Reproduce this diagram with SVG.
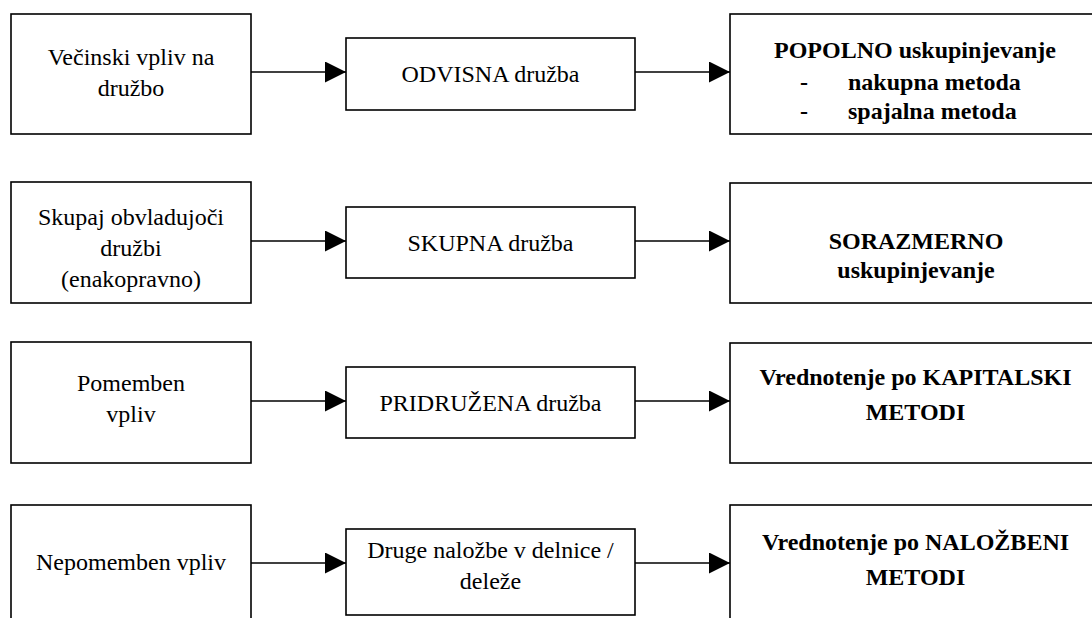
<svg xmlns="http://www.w3.org/2000/svg" width="1092" height="618" viewBox="0 0 1092 618">
<style>
.box{fill:#fff;stroke:#000;stroke-width:1.6}
.t{font-family:"Liberation Serif","Times New Roman",serif;font-size:24px;fill:#000;text-anchor:middle}
.b{font-weight:bold}
.c{stroke:#000;stroke-width:1.6;fill:none;marker-end:url(#ah)}
</style>
<defs>
<marker id="ah" viewBox="0 0 21 21" markerWidth="21" markerHeight="21" markerUnits="userSpaceOnUse" refX="21" refY="10.5" orient="auto">
<path d="M0,0 L21,10.5 L0,21 z" fill="#000"/>
</marker>
</defs>
<rect width="1092" height="618" fill="#fff"/>
<g id="connectors">
<line class="c" x1="251" y1="72" x2="346" y2="72"/>
<line class="c" x1="635" y1="72" x2="730" y2="72"/>
<line class="c" x1="251" y1="241" x2="346" y2="241"/>
<line class="c" x1="635" y1="241" x2="730" y2="241"/>
<line class="c" x1="251" y1="401" x2="346" y2="401"/>
<line class="c" x1="635" y1="401" x2="730" y2="401"/>
<line class="c" x1="251" y1="563" x2="346" y2="563"/>
<line class="c" x1="635" y1="563" x2="730" y2="563"/>
</g>
<g id="n1a"><rect class="box" x="11" y="14" width="240" height="120"/>
<text class="t" x="131" y="65">Večinski vpliv na</text><text class="t" x="131" y="96">družbo</text></g>
<g id="n1b"><rect class="box" x="346" y="38" width="289" height="72"/>
<text class="t" x="490.5" y="82">ODVISNA družba</text></g>
<g id="n1c"><rect class="box" x="730" y="14" width="370" height="120"/>
<text class="t b" x="915" y="58">POPOLNO uskupinjevanje</text>
<text class="t b" x="804" y="90">-</text><text class="t b" x="848" y="90" style="text-anchor:start">nakupna metoda</text>
<text class="t b" x="804" y="119">-</text><text class="t b" x="848" y="119" style="text-anchor:start">spajalna metoda</text></g>

<g id="n2a"><rect class="box" x="11" y="182" width="240" height="121"/>
<text class="t" x="131" y="225">Skupaj obvladujoči</text><text class="t" x="131" y="256">družbi</text><text class="t" x="131" y="287">(enakopravno)</text></g>
<g id="n2b"><rect class="box" x="346" y="207" width="289" height="71"/>
<text class="t" x="490.5" y="251">SKUPNA družba</text></g>
<g id="n2c"><rect class="box" x="730" y="183" width="370" height="120"/>
<text class="t b" x="916" y="249">SORAZMERNO</text><text class="t b" x="916" y="278">uskupinjevanje</text></g>

<g id="n3a"><rect class="box" x="11" y="342" width="240" height="121"/>
<text class="t" x="131" y="391">Pomemben</text><text class="t" x="131" y="422">vpliv</text></g>
<g id="n3b"><rect class="box" x="346" y="367" width="289" height="71"/>
<text class="t" x="490.5" y="411">PRIDRUŽENA družba</text></g>
<g id="n3c"><rect class="box" x="730" y="343" width="370" height="120"/>
<text class="t b" x="915.5" y="385">Vrednotenje po KAPITALSKI</text><text class="t b" x="915.5" y="420">METODI</text></g>

<g id="n4a"><rect class="box" x="11" y="505" width="240" height="130"/>
<text class="t" x="131" y="570">Nepomemben vpliv</text></g>
<g id="n4b"><rect class="box" x="346" y="529" width="289" height="86"/>
<text class="t" x="490.5" y="558">Druge naložbe v delnice /</text><text class="t" x="490.5" y="589">deleže</text></g>
<g id="n4c"><rect class="box" x="730" y="505" width="370" height="130"/>
<text class="t b" x="915.5" y="550">Vrednotenje po NALOŽBENI</text><text class="t b" x="915.5" y="585">METODI</text></g>
</svg>
